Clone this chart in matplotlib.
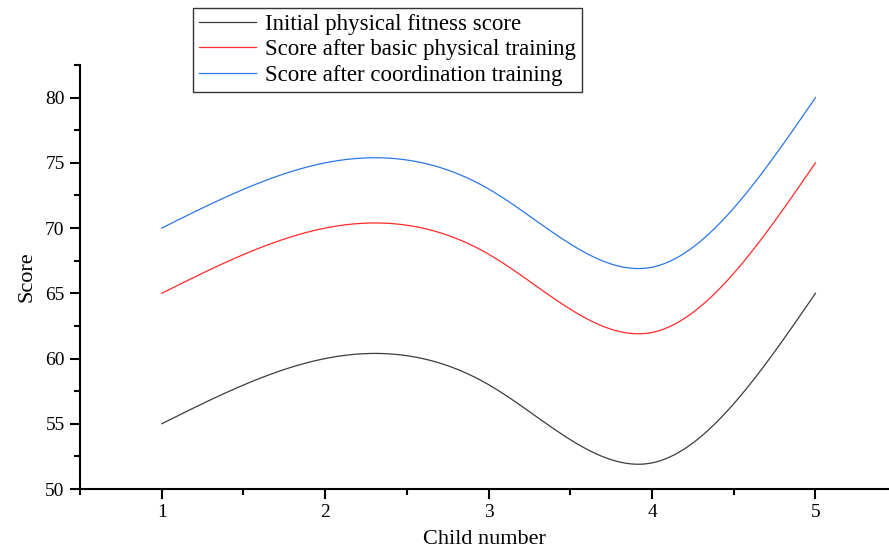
import numpy as np
import matplotlib
matplotlib.use('Agg')
import matplotlib.pyplot as plt
from matplotlib.ticker import MultipleLocator

child = [1, 2, 3, 4, 5]
initial_score = [55, 60, 58, 52, 65]
basic_score = [65, 70, 68, 62, 75]
coord_score = [70, 75, 73, 67, 80]

labels = ['Initial physical fitness score',
          'Score after basic physical training',
          'Score after coordination training']
colors = ['#3c3c3c', '#ff2a2a', '#2a78e6']


def natural_spline(x, y, n=400):
    # smooth curve through the points, like Origin's spline connect
    x = np.asarray(x, float)
    y = np.asarray(y, float)
    k = len(x)
    h = np.diff(x)
    A = np.zeros((k, k))
    b = np.zeros(k)
    A[0, 0] = A[-1, -1] = 1
    for i in range(1, k - 1):
        A[i, i - 1] = h[i - 1]
        A[i, i] = 2 * (h[i - 1] + h[i])
        A[i, i + 1] = h[i]
        b[i] = 6 * ((y[i + 1] - y[i]) / h[i] - (y[i] - y[i - 1]) / h[i - 1])
    M = np.linalg.solve(A, b)
    xs = np.linspace(x[0], x[-1], n)
    idx = np.clip(np.searchsorted(x, xs) - 1, 0, k - 2)
    x0, x1 = x[idx], x[idx + 1]
    hh = x1 - x0
    a = (x1 - xs) / hh
    c = (xs - x0) / hh
    ys = (a * y[idx] + c * y[idx + 1]
          + ((a ** 3 - a) * M[idx] + (c ** 3 - c) * M[idx + 1]) * hh ** 2 / 6)
    return xs, ys


plt.rcParams['font.family'] = ['Liberation Serif', 'DejaVu Serif']

fig = plt.figure(figsize=(8.89, 5.54), dpi=100)
ax = fig.add_axes([80 / 889, 65 / 554, 809 / 889, 424 / 554])

for ys, lab, col in zip([initial_score, basic_score, coord_score], labels, colors):
    sx, sy = natural_spline(child, ys)
    ax.plot(sx, sy, color=col, lw=0.9, label=lab)

ax.set_xlim(0.5, 5.45)
ax.set_ylim(50, 82.5)
ax.xaxis.set_major_locator(MultipleLocator(1))
ax.xaxis.set_minor_locator(MultipleLocator(0.5))
ax.yaxis.set_major_locator(MultipleLocator(5))
ax.yaxis.set_minor_locator(MultipleLocator(2.5))
ax.set_xticks([1, 2, 3, 4, 5])

for side in ['top', 'right']:
    ax.spines[side].set_visible(False)
for side in ['left', 'bottom']:
    ax.spines[side].set_linewidth(1.5)

ax.tick_params(which='major', direction='out', length=7, width=1.5,
               labelsize=14, colors='black', pad=4)
ax.tick_params(which='minor', direction='out', length=4, width=1.5)

ax.set_xlabel('Child number', fontsize=16, labelpad=6)
ax.set_ylabel('Score', fontsize=16, labelpad=6)

leg = fig.legend(loc='upper left', bbox_to_anchor=(193 / 889, 1 - 8 / 554),
                 bbox_transform=fig.transFigure, borderaxespad=0,
                 fontsize=16.5, frameon=True, fancybox=False, edgecolor='black',
                 handlelength=2.5, handletextpad=0.4, labelspacing=0.2,
                 borderpad=0.25)
leg.get_frame().set_linewidth(1.0)

fig.savefig('out.png', dpi=100)
